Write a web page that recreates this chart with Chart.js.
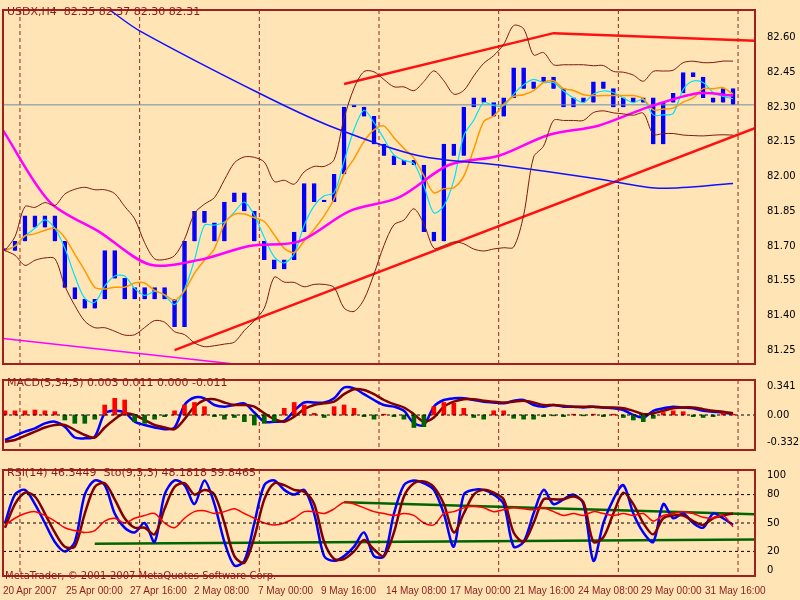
<!DOCTYPE html><html><head><meta charset="utf-8">
<script src="https://cdn.jsdelivr.net/npm/chart.js@4/dist/chart.umd.min.js"></script>
<style>
body{margin:0;background:#ffe4b5;width:800px;height:600px;overflow:hidden;font-family:"DejaVu Sans",sans-serif}
.p{position:absolute;left:0;width:800px}
.lab{position:absolute;font-size:11px;color:#8b1a1a;white-space:nowrap}
#xl span{position:absolute;top:585px;font-size:10px;font-family:"Liberation Sans",sans-serif;color:#8b1a1a;white-space:nowrap}
</style></head><body>
<div class="p" style="top:0;height:374px"><canvas id="c1"></canvas></div>
<div class="p" style="top:370px;height:90px"><canvas id="c2"></canvas></div>
<div class="p" style="top:460px;height:126px"><canvas id="c3"></canvas></div>
<div class="lab" style="left:7px;top:5px">USDX,H4&nbsp; 82.35 82.37 82.30 82.31</div>
<div class="lab" style="left:7px;top:376px">MACD(5,34,5) 0.003 0.011 0.000 -0.011</div>
<div class="lab" style="left:7px;top:466px">RSI(14) 46.3449&nbsp; Sto(9,3,3) 48.1818 59.8465</div>
<div class="lab" style="left:5px;top:570px;font-size:10px">MetaTrader, © 2001-2007 MetaQuotes Software Corp.</div>
<div id="xl"></div>
<script>
const closes=[81.68,81.72,81.83,81.78,81.83,81.72,81.52,81.47,81.43,81.47,81.68,81.56,81.47,81.52,81.47,81.52,81.47,81.35,81.72,81.85,81.80,81.72,81.89,81.93,81.85,81.72,81.64,81.60,81.64,81.76,81.97,81.89,81.89,82.01,82.30,82.30,82.26,82.14,82.09,82.05,82.07,82.05,81.76,81.72,82.14,82.09,82.30,82.34,82.32,82.26,82.34,82.47,82.38,82.41,82.43,82.38,82.30,82.34,82.32,82.41,82.38,82.30,82.34,82.32,82.34,82.14,82.32,82.36,82.45,82.43,82.34,82.32,82.38,82.31];
const blueMA=[[10.5,82.72],[13.5,82.63],[25.5,82.36],[32.5,82.22],[41.5,82.09],[49.5,82.05],[59.5,81.99],[65.5,81.95],[73,81.97]];
const magMA=[[-0.2,82.20],[4.5,81.89],[9.5,81.76],[14.5,81.62],[19.5,81.64],[24.5,81.70],[29.5,81.72],[34.5,81.85],[39.5,81.91],[44.5,82.05],[49.5,82.09],[54.5,82.18],[59.5,82.22],[64.5,82.30],[69.5,82.36],[73,82.35]];
const redUpper=[[34,82.40],[55,82.62],[79.5,82.58]];
const redLower=[[17,81.25],[79.5,82.28]];
const magLow=[[-0.2,81.30],[23,81.19]];
const macdHist=[0.05,0.05,0.05,0.06,0.05,0.04,-0.06,-0.1,-0.1,-0.05,0.12,0.2,0.18,-0.08,-0.1,-0.05,-0.02,0.05,0.12,0.15,0.1,-0.02,-0.05,-0.03,-0.08,-0.12,-0.1,-0.08,0.08,0.15,0.12,0.02,-0.03,0.1,0.12,0.08,-0.02,-0.05,0.01,-0.02,-0.05,-0.15,-0.14,0.1,0.15,0.14,0.08,-0.03,-0.05,0.05,0.05,-0.04,-0.05,-0.05,-0.02,-0.01,-0.02,0.01,-0.01,0.01,-0.02,0.01,-0.03,-0.06,-0.08,-0.04,0.03,0.05,0.04,-0.02,-0.03,-0.02,0.02,0.01];
const macdLine=[-0.3,-0.25,-0.2,-0.16,-0.1,-0.08,-0.14,-0.27,-0.28,-0.26,0.02,0.05,0.03,-0.08,-0.12,-0.15,-0.17,-0.15,0.12,0.21,0.2,0.12,0.1,0.12,0.14,0.03,-0.08,-0.08,-0.07,0.05,0.15,0.15,0.15,0.2,0.33,0.32,0.25,0.18,0.12,0.1,0.05,-0.1,-0.12,0.1,0.18,0.2,0.2,0.18,0.16,0.15,0.14,0.17,0.18,0.12,0.1,0.12,0.1,0.1,0.09,0.1,0.09,0.08,0.06,0.0,-0.03,0.05,0.08,0.1,0.09,0.08,0.05,0.04,0.03,0.01];
const macdSig=[-0.32,-0.3,-0.25,-0.2,-0.15,-0.12,-0.12,-0.18,-0.24,-0.27,-0.15,-0.05,0.02,0.0,-0.06,-0.12,-0.15,-0.17,-0.05,0.1,0.18,0.19,0.15,0.12,0.12,0.1,0.02,-0.05,-0.08,-0.02,0.07,0.12,0.14,0.16,0.25,0.31,0.3,0.25,0.18,0.13,0.09,0.01,-0.08,-0.03,0.1,0.16,0.19,0.19,0.17,0.16,0.15,0.16,0.17,0.15,0.12,0.12,0.11,0.1,0.1,0.1,0.09,0.09,0.08,0.05,0.01,0.02,0.05,0.08,0.09,0.09,0.07,0.05,0.04,0.02];
const rsi=[48,55,60,62,58,52,45,42,40,42,52,55,50,55,58,60,50,45,55,62,63,60,62,65,60,55,50,48,50,55,62,62,60,65,72,70,66,62,60,58,60,58,50,48,60,62,66,68,66,62,64,66,65,64,66,62,58,60,58,62,60,58,60,58,60,52,58,60,62,60,56,55,58,46];
const stochK=[50,80,85,70,50,30,20,30,80,95,90,60,45,40,50,30,80,95,90,70,95,70,30,5,10,50,90,95,85,80,85,60,15,10,15,25,40,15,15,60,90,95,92,85,60,25,80,85,85,80,70,25,30,60,85,70,75,80,70,10,50,75,90,60,40,30,70,55,60,50,45,60,55,48];
const stochD=[45,70,82,78,60,40,25,25,60,88,92,75,55,45,45,38,65,88,92,80,85,80,50,15,8,35,75,92,90,85,83,70,30,12,12,20,32,22,15,40,78,92,94,88,70,40,60,80,85,82,75,40,30,50,75,75,75,78,72,30,35,60,82,70,50,38,55,58,58,52,48,55,58,60];
const rsiUpper=[[34,72],[79.5,58]];
const rsiLower=[[9,28],[79.5,33]];
const xLabels=[["20 Apr 2007",3],["25 Apr 00:00",66],["27 Apr 16:00",130],["2 May 08:00",194],["7 May 00:00",258],["9 May 16:00",321],["14 May 08:00",386],["17 May 00:00",450],["21 May 16:00",514],["24 May 08:00",578],["29 May 00:00",641],["31 May 16:00",705]];
const vlines=[1.5,13.5,25.5,37.5,49.5,61.5,73.5];

const BR='#a02020';
document.getElementById('xl').innerHTML=xLabels.map(l=>`<span style="left:${l[1]}px">${l[0]}</span>`).join('');
const pts=(a)=>a.map(p=>({x:p[0],y:p[1]}));
const ser=(a)=>a.map((v,i)=>({x:i,y:v}));
function sma(a,n){return a.map((_,i)=>{const s=a.slice(Math.max(0,i-n+1),i+1);return s.reduce((p,c)=>p+c,0)/s.length;});}
function bb(a,n,k){const m=sma(a,n);return a.map((_,i)=>{const s=a.slice(Math.max(0,i-n+1),i+1);const sd=Math.sqrt(s.reduce((p,c)=>p+(c-m[i])**2,0)/s.length);return [m[i]+k*sd,m[i]-k*sd];});}
const bands=bb(closes,10,2);
const frame={id:'frame',afterDraw(c){const a=c.chartArea,x=c.ctx;x.save();x.strokeStyle=BR;x.lineWidth=2;x.strokeRect(a.left,a.top,a.right-a.left,a.bottom-a.top);x.restore();}};
function xNoGrid(){return {type:'linear',min:-0.2,max:75.2,offset:false,ticks:{display:false},grid:{display:false},border:{display:false}};}
function yScale(min,max,ticks,cb){const t={color:'#000',font:{size:10,family:'DejaVu Sans'},padding:4};if(cb)t.callback=cb;return {position:'right',min,max,afterFit(s){s.width=45;},afterBuildTicks(s){s.ticks=ticks.map(v=>({value:v}));},ticks:t,grid:{display:false},border:{display:false}};}
const base=(scales)=>({responsive:true,maintainAspectRatio:false,animation:false,layout:{padding:{left:3,top:0,bottom:0,right:0}},plugins:{legend:{display:false},tooltip:{enabled:false}},scales});
const L=(data,color,w,t)=>({type:'line',data,borderColor:color,borderWidth:w,pointRadius:0,tension:t===undefined?0.3:t,fill:false});
const gridDash={id:'gd',beforeDatasetsDraw(c){const x=c.ctx,a=c.chartArea,s=c.scales.x;x.save();x.strokeStyle=BR;x.setLineDash([4,3]);x.lineWidth=1;vlines.forEach(v=>{const px=s.getPixelForValue(v);x.beginPath();x.moveTo(px,a.top);x.lineTo(px,a.bottom);x.stroke();});x.restore();}};

new Chart(document.getElementById('c1'),{data:{datasets:[
 L(ser(bands.map(b=>b[0])),'#7a1a10',1),L(ser(bands.map(b=>b[1])),'#7a1a10',1),
 L(pts(blueMA),'#1010ff',1.5),L(pts(magMA),'#ff00ff',2.5),L(pts(magLow),'#ff00ff',1.5,0),
 L(ser(sma(closes,5)),'#ff9900',1.5),L(ser(sma(closes,3)),'#00e0ff',1.2),
 {type:'line',data:[{x:-0.2,y:82.31},{x:75.2,y:82.31}],borderColor:'#6a8cb0',borderWidth:1,pointRadius:0},
 L(pts(redUpper),'#ff1010',2.5,0),L(pts(redLower),'#ff1010',2.5,0),
 {type:'bar',data:closes.map((v,i)=>({x:i,y:[i?closes[i-1]:v,v]})),backgroundColor:'#0000ff',borderColor:'#0000ff',borderWidth:1,barThickness:4,minBarLength:2}
]},options:base({x:xNoGrid(),y:yScale(81.19,82.72,[81.25,81.40,81.55,81.70,81.85,82.00,82.15,82.30,82.45,82.60],v=>v.toFixed(2))}),plugins:[frame,gridDash]});

new Chart(document.getElementById('c2'),{data:{datasets:[
 {type:'line',data:[{x:-0.2,y:0},{x:75.2,y:0}],borderColor:'#000',borderWidth:1,borderDash:[3,3],pointRadius:0},
 {type:'bar',data:macdHist.map((v,i)=>({x:i,y:v})),backgroundColor:macdHist.map(v=>v>=0?'#ff0000':'#006400'),barThickness:4},
 L(ser(macdSig),'#800000',2.5),L(ser(macdLine),'#0000ff',2.5)
]},options:base({x:xNoGrid(),y:yScale(-0.42,0.42,[-0.332,0,0.341],v=>v===0?'0.00':v)}),plugins:[frame,gridDash]});

const hl=(v)=>({type:'line',data:[{x:-0.2,y:v},{x:75.2,y:v}],borderColor:'#000',borderWidth:1,borderDash:[3,3],pointRadius:0});
new Chart(document.getElementById('c3'),{data:{datasets:[
 hl(80),hl(50),hl(20),
 L(ser(rsi),'#ff0000',1.5),L(ser(stochD),'#800000',2.5),L(ser(stochK),'#0000ff',2.5),
 L(pts(rsiUpper),'#006400',2.5,0),L(pts(rsiLower),'#006400',2.5,0)
]},options:base({x:xNoGrid(),y:yScale(-6,106,[0,20,50,80,100])}),plugins:[frame,gridDash]});
</script></body></html>
